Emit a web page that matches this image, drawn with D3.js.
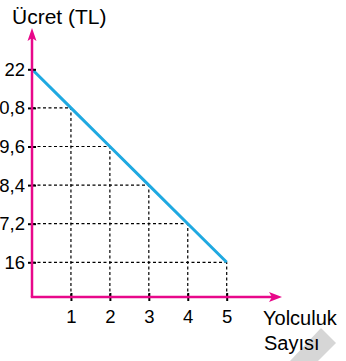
<!DOCTYPE html>
<html>
<head>
<meta charset="utf-8">
<script src="https://cdn.jsdelivr.net/npm/d3@7"></script>
<style>
  body { margin: 0; background: #fff; }
  svg { display: block; font-family: "Liberation Sans", Arial, sans-serif; }
</style>
</head>
<body>
<svg id="chart"></svg>
<script>
const trips = [0, 1, 2, 3, 4, 5];
const fares = [22, 20.8, 19.6, 18.4, 17.2, 16];
const yTickValues = [22, 20.8, 19.6, 18.4, 17.2, 16];
const yTickLabels = ["22", "20,8", "19,6", "18,4", "17,2", "16"];
const xTickValues = [1, 2, 3, 4, 5];

const width = 346;
const height = 361;

const pink = "#e8088a";
const blue = "#1fa9e1";
const font = "'Liberation Sans', Arial, sans-serif";

const svg = d3.select("#chart").attr("width", width).attr("height", height);

const x = d3.scaleLinear().domain([0, 5]).range([32, 226.7]);
const y = d3.scaleLinear().domain([16, 22]).range([262.3, 69.3]);
const axisY = 297;

// watermark shape in the corner
svg.append("polygon")
  .attr("points", "290,361 321,328 336,343 318,361")
  .attr("fill", "#d6d6d6");

// dotted guide lines
const grid = svg.append("g")
  .attr("stroke", "#000")
  .attr("stroke-width", 1.2)
  .attr("stroke-dasharray", "3,2.5");

trips.forEach((t, i) => {
  if (t === 0) return;
  grid.append("line")
    .attr("x1", x(0)).attr("x2", x(t))
    .attr("y1", y(fares[i])).attr("y2", y(fares[i]));
  grid.append("line")
    .attr("x1", x(t)).attr("x2", x(t))
    .attr("y1", axisY).attr("y2", y(fares[i]));
});

// fare line
svg.append("path")
  .datum(trips.map((t, i) => [t, fares[i]]))
  .attr("fill", "none")
  .attr("stroke", blue)
  .attr("stroke-width", 3)
  .attr("d", d3.line().x(d => x(d[0])).y(d => y(d[1])));

// y axis
const yAxis = d3.axisLeft(y)
  .tickValues(yTickValues)
  .tickFormat((d, i) => yTickLabels[i])
  .tickSize(0)
  .tickPadding(7);

const gy = svg.append("g")
  .attr("transform", "translate(" + x(0) + ",0)")
  .call(yAxis)
  .attr("font-family", font);
gy.select(".domain").remove();
gy.selectAll("text").attr("font-size", 18.5).attr("fill", "#000");
gy.selectAll(".tick").append("line")
  .attr("x1", -4).attr("x2", 4)
  .attr("stroke", "#000").attr("stroke-width", 2);

// x axis
const xAxis = d3.axisBottom(x)
  .tickValues(xTickValues)
  .tickFormat(d3.format("d"))
  .tickSize(0)
  .tickPadding(13);

const gx = svg.append("g")
  .attr("transform", "translate(0," + axisY + ")")
  .call(xAxis)
  .attr("font-family", font);
gx.select(".domain").remove();
gx.selectAll("text").attr("font-size", 18.5).attr("fill", "#000");
gx.selectAll(".tick").append("line")
  .attr("y1", -4).attr("y2", 4)
  .attr("stroke", "#000").attr("stroke-width", 2);

// pink axis lines with arrows
svg.append("line")
  .attr("x1", x(0)).attr("x2", x(0))
  .attr("y1", axisY).attr("y2", 36)
  .attr("stroke", pink).attr("stroke-width", 2.5);
svg.append("line")
  .attr("x1", x(0) - 1.2).attr("x2", 274)
  .attr("y1", axisY).attr("y2", axisY)
  .attr("stroke", pink).attr("stroke-width", 2.5);

svg.append("polygon")
  .attr("points", [[x(0), 28], [x(0) + 4.5, 41], [x(0), 38], [x(0) - 4.5, 41]].join(" "))
  .attr("fill", pink);
svg.append("polygon")
  .attr("points", [[282, axisY], [269, axisY - 5], [272, axisY], [269, axisY + 5]].join(" "))
  .attr("fill", pink);

// axis titles
svg.append("text")
  .attr("x", 12).attr("y", 24)
  .attr("font-size", 21)
  .text("Ücret (TL)");

const xt = svg.append("text")
  .attr("font-size", 20);
xt.append("tspan").attr("x", 263).attr("y", 325).text("Yolculuk");
xt.append("tspan").attr("x", 264).attr("y", 350).text("Sayısı");
</script>
</body>
</html>
